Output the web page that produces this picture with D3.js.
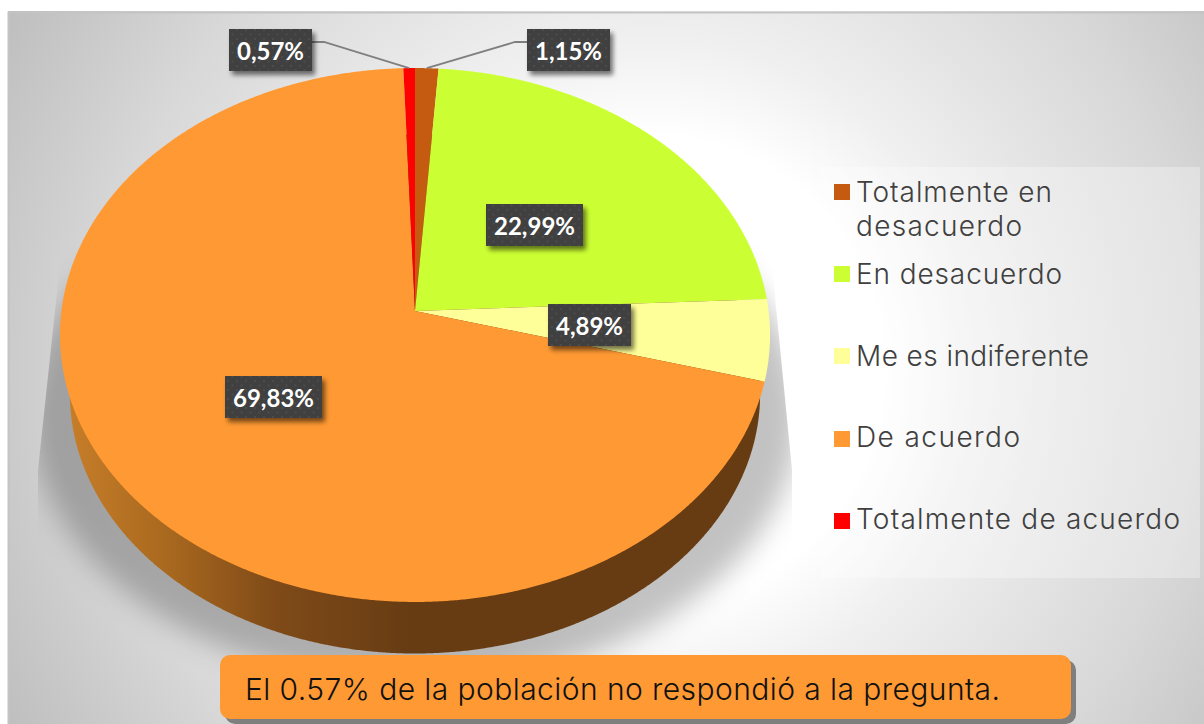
<!DOCTYPE html>
<html><head><meta charset="utf-8">
<script src="https://cdn.jsdelivr.net/npm/d3@7/dist/d3.min.js"></script>
<style>html,body{margin:0;padding:0;background:#fff;overflow:hidden}svg{display:block}</style>
</head><body><svg id="c" width="1204" height="724"></svg>
<script>
const categories = ["Totalmente en desacuerdo","En desacuerdo","Me es indiferente","De acuerdo","Totalmente de acuerdo"];
const values = [1.15,22.99,4.89,69.83,0.57];
const valueLabels = ["1,15%","22,99%","4,89%","69,83%","0,57%"];
const colors = ["#c55a11","#ccff33","#ffff99","#ff9933","#ff0000"];
const legendLines = [["Totalmente en","desacuerdo"],["En desacuerdo"],["Me es indiferente"],["De acuerdo"],["Totalmente de acuerdo"]];
const note = "El 0.57% de la población no respondió a la pregunta.";

// layout (kept apart from the data)
const labelBox = [[527,29,83],[486,204,97],[548,304,83],[225,376,97],[229,29,83]];
const elbows = {0:[515,42,527],4:[324,42,312]};
const legendSwatchY = [184,266,348,431,513];
const legendBase = [202,284,366,447,529];
const legendWidths = [[196,166],[206],[233],[164],[324]];
const k = 0.0899;

const svg = d3.select("#c");
const defs = svg.append("defs");

// Scales: unit disc to the page, top plane and bottom rim
const sxTop = d3.scaleLinear().domain([-1,1]).range([415-353.6,415+353.6]);
const syTop = d3.scaleLinear().domain([-1,1]).range([311-264.8,311+264.8]);
const sxBot = d3.scaleLinear().domain([-1,1]).range([415-343.7,415+343.7]);
const syBot = d3.scaleLinear().domain([-1,1]).range([370.7-257.4,370.7+257.4]);
function project(sx,sy,u,v){
  const w = 1-k*v;
  return [sx(u/w), sy(v/w)];
}
const rim = (sx,sy,a)=>project(sx,sy,Math.sin(a),-Math.cos(a));
const line = d3.line();

// Panel background
const bg = defs.append("radialGradient").attr("id","bg").attr("gradientUnits","userSpaceOnUse")
  .attr("cx",650).attr("cy",370).attr("r",730);
[[0,"#ffffff"],[0.32,"#ffffff"],[0.45,"#f0f0f0"],[0.58,"#e5e5e5"],[0.75,"#d8d8d8"],[0.9,"#c9c9c9"],[1,"#bfbfbf"]]
  .forEach(s=>bg.append("stop").attr("offset",s[0]).attr("stop-color",s[1]));
svg.append("rect").attr("x",8).attr("y",11).attr("width",1196).attr("height",713).attr("fill","url(#bg)");
svg.append("path").attr("d","M8.5,724V12.5H1204").attr("fill","none").attr("stroke","#c4c4c4").attr("stroke-width",2);

// Legend backing
svg.append("rect").attr("x",821).attr("y",167).attr("width",379).attr("height",411).attr("fill","#fff").attr("fill-opacity",0.3);

// Filters
const f1 = defs.append("filter").attr("id","blur").attr("x","-20%").attr("y","-20%").attr("width","140%").attr("height","140%");
f1.append("feGaussianBlur").attr("stdDeviation",14);
const f2 = defs.append("filter").attr("id","ds").attr("x","-20%").attr("y","-20%").attr("width","150%").attr("height","160%");
f2.append("feGaussianBlur").attr("in","SourceAlpha").attr("stdDeviation",2.5).attr("result","b");
f2.append("feOffset").attr("in","b").attr("dx",3).attr("dy",4).attr("result","o");
f2.append("feComponentTransfer").attr("in","o").attr("result","s").append("feFuncA").attr("type","linear").attr("slope",0.55);
const m = f2.append("feMerge"); m.append("feMergeNode").attr("in","s"); m.append("feMergeNode").attr("in","SourceGraphic");

// Pie shadow
defs.append("clipPath").attr("id","shclip").append("path").attr("d","M62,245L38,470L38,724H792V470L770,245Z");
svg.append("g").attr("clip-path","url(#shclip)")
  .append("ellipse").attr("cx",415).attr("cy",415).attr("rx",384).attr("ry",268)
  .attr("fill","#000").attr("fill-opacity",0.24).attr("filter","url(#blur)");

// Pie
const pie = d3.pie().sort(null).value(d=>d)(values);
const steps = a=>d3.range(a.startAngle,a.endAngle,0.005).concat([a.endAngle]);

// Side wall (visible part belongs to the largest slice)
const wg = defs.append("linearGradient").attr("id","wall").attr("gradientUnits","userSpaceOnUse")
  .attr("x1",60).attr("x2",410).attr("y1",0).attr("y2",0);
[[0,"#c97f2a"],[0.3,"#a9691f"],[0.62,"#7f4a18"],[1,"#673c13"]].forEach(s=>wg.append("stop").attr("offset",s[0]).attr("stop-color",s[1]));
svg.append("path").attr("fill","url(#wall)")
  .attr("d",line(d3.range(0,2*Math.PI+0.001,0.005).map(a=>rim(sxBot,syBot,a)))+"Z");

svg.append("g").selectAll("path").data(pie).join("path")
  .attr("fill",(d,i)=>colors[i])
  .attr("d",d=>line([project(sxTop,syTop,0,0)].concat(steps(d).map(a=>rim(sxTop,syTop,a))))+"Z");

// Leader lines
Object.keys(elbows).forEach(i=>{
  const p = pie[i], mid=(p.startAngle+p.endAngle)/2, e=elbows[i];
  svg.append("path").attr("fill","none").attr("stroke","#7f7f7f").attr("stroke-width",1.8)
    .attr("d",line([[e[2],e[1]],[e[0],e[1]],rim(sxTop,syTop,mid)]));
});

// Data labels
const pat = defs.append("pattern").attr("id","dots").attr("patternUnits","userSpaceOnUse").attr("width",9).attr("height",9);
pat.append("rect").attr("width",9).attr("height",9).attr("fill","#404040");
pat.append("rect").attr("x",2).attr("y",2).attr("width",2).attr("height",2).attr("fill","#4b4b4b");
pat.append("rect").attr("x",6.5).attr("y",6.5).attr("width",2).attr("height",2).attr("fill","#4b4b4b");
const lab = svg.append("g").selectAll("g").data(valueLabels).join("g");
lab.append("rect").attr("x",(d,i)=>labelBox[i][0]).attr("y",(d,i)=>labelBox[i][1])
  .attr("width",(d,i)=>labelBox[i][2]).attr("height",42).attr("fill","url(#dots)").attr("filter","url(#ds)");
lab.append("text").text(d=>d).attr("x",(d,i)=>labelBox[i][0]+labelBox[i][2]/2).attr("y",(d,i)=>labelBox[i][1]+30.5)
  .attr("text-anchor","middle").attr("fill","#fff").attr("font-family","Lato").attr("font-weight",700).attr("font-size",24);

// Legend
const leg = svg.append("g").selectAll("g").data(categories).join("g");
leg.append("rect").attr("x",834).attr("y",(d,i)=>legendSwatchY[i]).attr("width",16).attr("height",16).attr("fill",(d,i)=>colors[i]);
leg.each(function(d,i){
  d3.select(this).selectAll("text").data(legendLines[i]).join("text").text(t=>t)
    .attr("x",856).attr("y",(t,j)=>legendBase[i]+j*34)
    .attr("textLength",(t,j)=>legendWidths[i][j]).attr("lengthAdjust","spacing")
    .attr("fill","#404040").attr("font-family","Inter").attr("font-weight",300).attr("font-size",28);
});

// Note
svg.append("rect").attr("x",225).attr("y",660).attr("width",851).attr("height",64).attr("rx",10).attr("fill","#7f7f7f");
svg.append("rect").attr("x",220).attr("y",655).attr("width",851).attr("height",64).attr("rx",10).attr("fill","#ff9933");
svg.append("text").text(note).attr("x",245).attr("y",700).attr("textLength",755).attr("lengthAdjust","spacing")
  .attr("fill","#111").attr("font-family","Inter").attr("font-weight",300).attr("font-size",30);
</script></body></html>
